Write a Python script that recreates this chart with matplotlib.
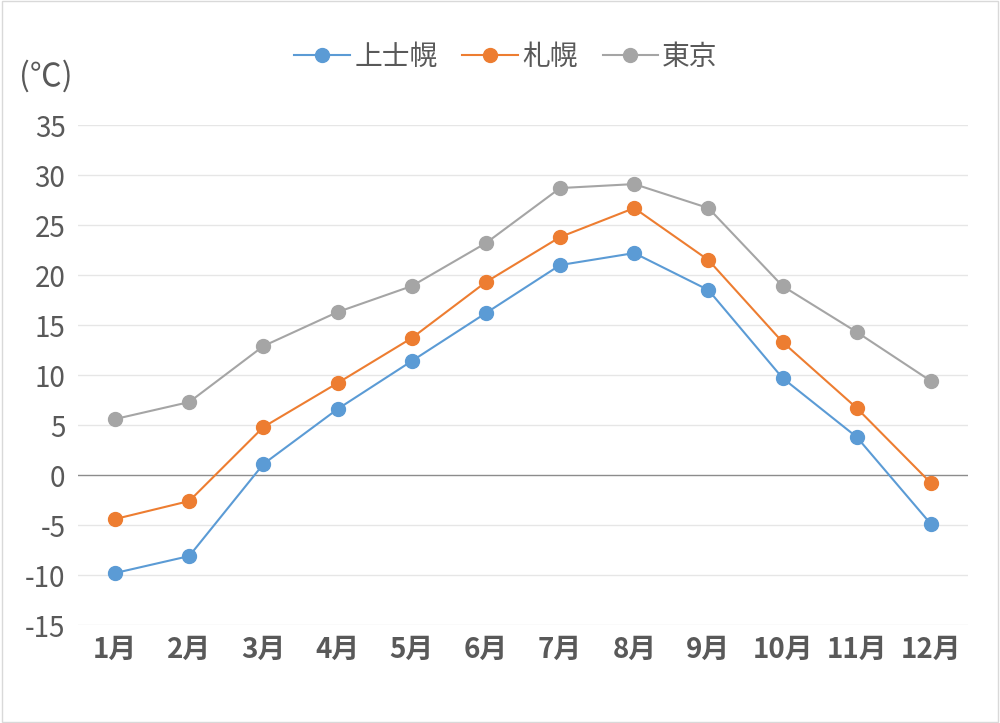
import matplotlib.pyplot as plt
from matplotlib.patches import Rectangle

plt.rcParams['font.family'] = ['Noto Sans CJK JP', 'DejaVu Sans']

months = [f"{i}月" for i in range(1, 13)]
kamishihoro = [-9.8, -8.1, 1.1, 6.6, 11.4, 16.2, 21.0, 22.2, 18.5, 9.7, 3.8, -4.9]
sapporo = [-4.4, -2.6, 4.8, 9.2, 13.7, 19.3, 23.8, 26.7, 21.5, 13.3, 6.7, -0.8]
tokyo = [5.6, 7.3, 12.9, 16.3, 18.9, 23.2, 28.7, 29.1, 26.7, 18.9, 14.3, 9.4]
yticks = list(range(-15, 40, 5))

fig = plt.figure(figsize=(10, 7.23), dpi=100)
fig.patches.append(Rectangle((0.002, 0.002), 0.996, 0.996, transform=fig.transFigure,
                             fill=False, edgecolor="#d9d9d9", linewidth=1))
ax = fig.add_axes([0.078, 0.1355, 0.89, 0.6915])

x = list(range(len(months)))
series = [("上士幌", kamishihoro, "#5b9bd5"),
          ("札幌", sapporo, "#ed7d31"),
          ("東京", tokyo, "#a5a5a5")]
for name, vals, c in series:
    ax.plot(x, vals, color=c, linewidth=1.5, marker="o", markersize=10,
            label=name, zorder=3)

ax.set_xlim(-0.5, 11.5)
ax.set_ylim(-15, 35)
ax.set_yticks(yticks)
ax.set_yticklabels([str(v) for v in yticks])
ax.set_xticks(x)
ax.set_xticklabels(months, fontweight="bold")
ax.tick_params(axis="y", length=0, labelsize=20, labelcolor="#595959", pad=9)
ax.tick_params(axis="x", length=0, labelsize=20, labelcolor="#595959", pad=8)
for t in yticks:
    if t != 0:
        ax.axhline(t, color="#e6e6e6", linewidth=1, zorder=1)
ax.axhline(0, color="#8c8c8c", linewidth=1, zorder=2)
for s in ax.spines.values():
    s.set_visible(False)

fig.text(0.019, 0.895, "(℃)", fontsize=23, color="#595959", va="center")
ax.legend(loc="center", bbox_to_anchor=(0.481, 1.136), ncol=3, frameon=False,
          fontsize=20, labelcolor="#595959", handlelength=2.0,
          handletextpad=0.15, columnspacing=0.9)

fig.savefig("out.png", dpi=100)
